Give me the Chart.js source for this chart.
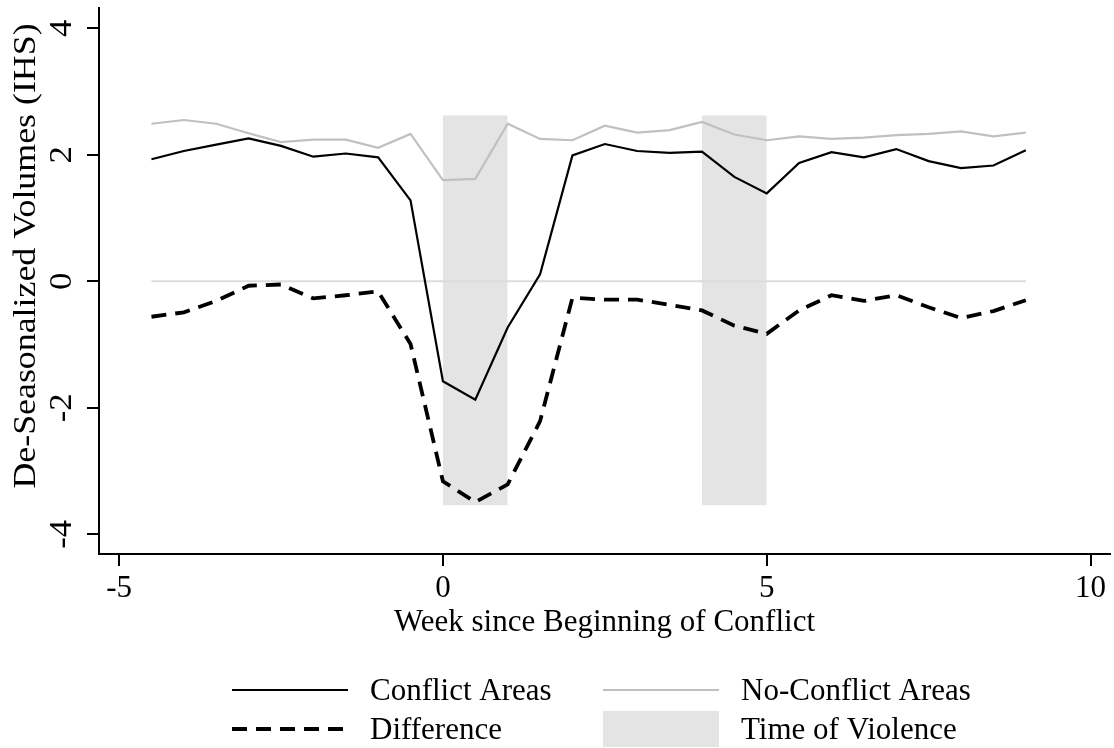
<!DOCTYPE html>
<html>
<head>
<meta charset="utf-8">
<script src="https://cdn.jsdelivr.net/npm/chart.js@4.4.1/dist/chart.umd.min.js"></script>
<style>
  html, body { margin: 0; padding: 0; background: #fff; }
  #chart { display: block; }
</style>
</head>
<body>
<canvas id="chart" width="1114" height="748"></canvas>
<script>
// --- data ---
const weeks = [-4.5, -4, -3.5, -3, -2.5, -2, -1.5, -1, -0.5, 0, 0.5, 1, 1.5, 2, 2.5, 3, 3.5, 4, 4.5, 5, 5.5, 6, 6.5, 7, 7.5, 8, 8.5, 9];
const conflictAreas = [1.93, 2.06, 2.16, 2.26, 2.14, 1.97, 2.02, 1.96, 1.28, -1.58, -1.87, -0.73, 0.11, 1.99, 2.17, 2.06, 2.03, 2.05, 1.65, 1.39, 1.87, 2.04, 1.96, 2.09, 1.90, 1.79, 1.83, 2.07];
const noConflictAreas = [2.49, 2.55, 2.49, 2.34, 2.20, 2.24, 2.24, 2.11, 2.33, 1.60, 1.62, 2.49, 2.25, 2.23, 2.46, 2.35, 2.39, 2.52, 2.32, 2.23, 2.29, 2.25, 2.27, 2.31, 2.33, 2.37, 2.29, 2.35];
const difference = [-0.56, -0.49, -0.31, -0.07, -0.05, -0.27, -0.22, -0.16, -0.99, -3.16, -3.49, -3.21, -2.21, -0.26, -0.29, -0.29, -0.37, -0.46, -0.70, -0.83, -0.46, -0.22, -0.31, -0.22, -0.41, -0.58, -0.47, -0.30];

// shaded weeks of violence
const violenceStart = [0, 4];
const violenceEnd = [1, 5];
const violenceTop = 2.62;
const violenceBottom = -3.54;

const xTicks = [-5, 0, 5, 10];
const yTicks = [-4, -2, 0, 2, 4];

const FONT = "'Liberation Serif', 'Times New Roman', serif";
const FSIZE = 31;
const toPoints = (xs, ys) => xs.map((x, i) => ({ x: x, y: ys[i] }));

// bands: one line per window, filled down to the bottom value
const bandSets = violenceStart.map((s, i) => ({
    label: i === 0 ? 'Time of Violence' : '',
    data: [{ x: s, y: violenceTop }, { x: violenceEnd[i], y: violenceTop }],
    borderWidth: 0,
    borderColor: 'rgba(0,0,0,0)',
    backgroundColor: '#e4e4e4',
    fill: { target: { value: violenceBottom } },
    pointRadius: 0,
    order: 10
}));

const zeroLine = {
    label: '',
    data: [{ x: weeks[0], y: 0 }, { x: weeks[weeks.length - 1], y: 0 }],
    borderColor: '#dcdcdc',
    borderWidth: 2,
    pointRadius: 0,
    order: 9
};

const datasets = [
    ...bandSets,
    zeroLine,
    { label: 'No-Conflict Areas', data: toPoints(weeks, noConflictAreas), borderColor: '#c0c0c0', borderWidth: 2.2, pointRadius: 0, tension: 0, order: 3 },
    { label: 'Conflict Areas', data: toPoints(weeks, conflictAreas), borderColor: '#000000', borderWidth: 2.2, pointRadius: 0, tension: 0, order: 2 },
    { label: 'Difference', data: toPoints(weeks, difference), borderColor: '#000000', borderWidth: 3.8, borderDash: [15, 9], pointRadius: 0, tension: 0, order: 1 }
];

// rotated y tick labels, y title and stata style legend
const extrasPlugin = {
    id: 'extras',
    afterDraw(chart) {
        const ctx = chart.ctx;
        const y = chart.scales.y;
        ctx.save();
        ctx.fillStyle = '#000';
        ctx.font = FSIZE + 'px ' + FONT;
        ctx.textAlign = 'center';
        ctx.textBaseline = 'middle';
        yTicks.forEach(v => {
            const py = y.getPixelForValue(v);
            ctx.save();
            ctx.translate(63, py);
            ctx.rotate(-Math.PI / 2);
            ctx.scale(1.12, 1);
            ctx.fillText(String(v), 0, 0);
            ctx.restore();
        });

        // y axis title (source picture is a bit stretched vertically)
        ctx.save();
        ctx.font = '32px ' + FONT;
        ctx.translate(27, 256);
        ctx.rotate(-Math.PI / 2);
        ctx.scale(1.12, 1);
        ctx.fillText('De-Seasonalized Volumes (IHS)', 0, 0);
        ctx.restore();

        // legend, two columns
        const items = [
            { text: 'Conflict Areas', col: 0, row: 0, ds: datasets[4] },
            { text: 'No-Conflict Areas', col: 1, row: 0, ds: datasets[3] },
            { text: 'Difference', col: 0, row: 1, ds: datasets[5] },
            { text: 'Time of Violence', col: 1, row: 1, box: true }
        ];
        const colX = [232, 603];
        const rowY = [690, 729];
        ctx.textAlign = 'left';
        items.forEach(it => {
            const x0 = colX[it.col];
            const yy = rowY[it.row];
            if (it.box) {
                ctx.fillStyle = bandSets[0].backgroundColor;
                ctx.fillRect(x0, yy - 18, 116, 36);
            } else {
                ctx.strokeStyle = it.ds.borderColor;
                ctx.lineWidth = it.ds.borderWidth;
                ctx.setLineDash(it.ds.borderDash || []);
                ctx.beginPath();
                ctx.moveTo(x0, yy);
                ctx.lineTo(x0 + 116, yy);
                ctx.stroke();
                ctx.setLineDash([]);
            }
            ctx.fillStyle = '#000';
            ctx.fillText(it.text, x0 + 138, yy + 2);
        });
        ctx.restore();
    }
};

new Chart(document.getElementById('chart'), {
    type: 'line',
    data: { datasets: datasets },
    options: {
        responsive: false,
        animation: false,
        events: [],
        layout: { padding: { top: 8, right: 4, left: 0, bottom: 107 } },
        plugins: { legend: { display: false }, tooltip: { enabled: false } },
        scales: {
            x: {
                type: 'linear',
                min: -5.31,
                max: 10.3,
                afterBuildTicks: s => { s.ticks = xTicks.map(v => ({ value: v })); },
                afterFit: s => { s.height = 87; },
                grid: { drawOnChartArea: false, drawTicks: true, tickLength: 12, color: '#000', lineWidth: 2 },
                border: { display: true, color: '#000', width: 2 },
                ticks: { color: '#000', font: { family: FONT, size: FSIZE }, padding: 4, maxRotation: 0 },
                title: { display: true, text: 'Week since Beginning of Conflict', color: '#000', font: { family: FONT, size: FSIZE }, padding: 0 }
            },
            y: {
                type: 'linear',
                min: -4.31,
                max: 4.32,
                afterBuildTicks: s => { s.ticks = yTicks.map(v => ({ value: v })); },
                afterFit: s => { s.width = 99; },
                grid: { drawOnChartArea: false, drawTicks: true, tickLength: 12, color: '#000', lineWidth: 2 },
                border: { display: true, color: '#000', width: 2 },
                ticks: { display: false },
                title: { display: false }
            }
        }
    },
    plugins: [extrasPlugin]
});
</script>
</body>
</html>
